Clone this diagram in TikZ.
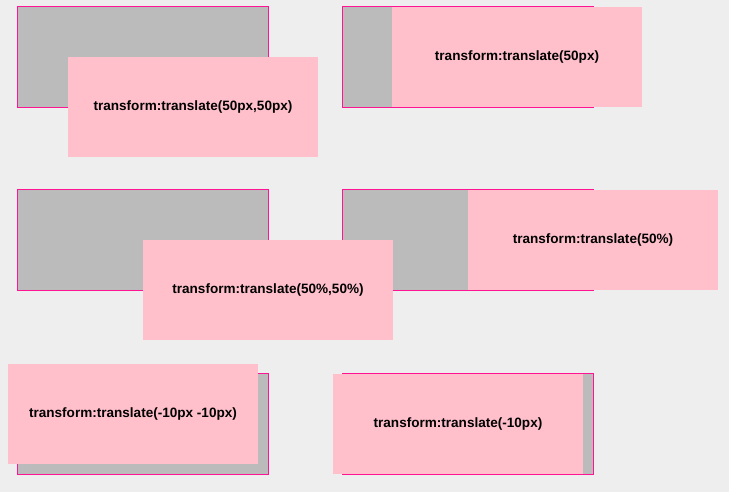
\documentclass[tikz,border=0pt]{standalone}
\usepackage{fontspec}
\setmainfont{Liberation Sans}
\usepackage{xcolor}
\definecolor{pagegray}{HTML}{EEEEEE}
\definecolor{boxgray}{HTML}{BBBBBB}
\definecolor{borderpink}{HTML}{FF1493}
\definecolor{shiftpink}{HTML}{FFC0CB}
\tikzset{
  basebox/.style={draw=borderpink, fill=boxgray, line width=1bp,
    minimum width=251bp, minimum height=101bp, inner sep=0pt, outer sep=0pt,
    anchor=north west},
  shiftbox/.style={fill=shiftpink, minimum width=250bp, minimum height=100bp,
    inner sep=0pt, outer sep=0pt, anchor=north west,
    font=\fontsize{13.6}{15}\selectfont\bfseries}
}

\begin{document}
\begin{tikzpicture}[x=1bp, y=-1bp]
    % draw page
    \fill[pagegray] (0, 0) rectangle (729, 492);
    \useasboundingbox (0, 0) rectangle (729, 492);

    % draw untransformed boxes
    \node[basebox] (baseA) at (17.5, 6.5) {};
    \node[basebox] (baseB) at (342.5, 6.5) {};
    \node[basebox] (baseC) at (17.5, 189.5) {};
    \node[basebox] (baseD) at (342.5, 189.5) {};
    \node[basebox] (baseE) at (17.5, 373.5) {};
    \node[basebox] (baseF) at (342.5, 373.5) {};

    % draw translated boxes
    \node[shiftbox] (shiftA) at (68, 57) {transform:translate(50px,50px)};
    \node[shiftbox] (shiftB) at (392, 7) {transform:translate(50px)};
    \node[shiftbox] (shiftC) at (143, 240) {transform:translate(50\%,50\%)};
    \node[shiftbox] (shiftD) at (468, 190) {transform:translate(50\%)};
    \node[shiftbox] (shiftE) at (8, 364) {transform:translate(-10px -10px)};
    \node[shiftbox] (shiftF) at (333, 374) {transform:translate(-10px)};

\end{tikzpicture}
\end{document}
